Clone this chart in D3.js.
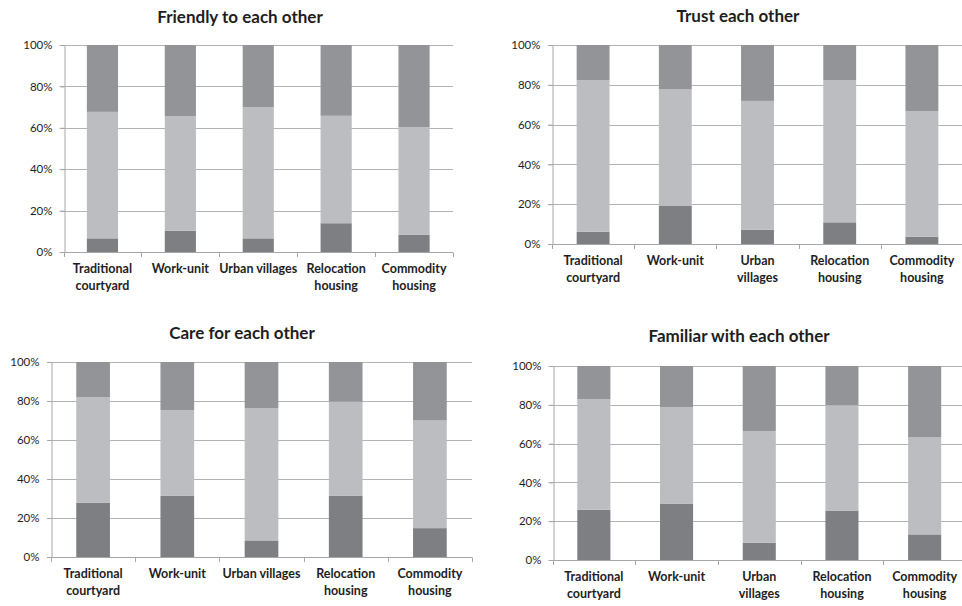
<!DOCTYPE html>
<html>
<head>
<meta charset="utf-8">
<script src="https://cdn.jsdelivr.net/npm/d3@7"></script>
<style>
  html, body { margin: 0; padding: 0; background: #fff; }
  svg { display: block; }
  text { font-family: Lato, "Open Sans", sans-serif; fill: #1e1e1e; }
</style>
</head>
<body>
<svg id="chart" width="962" height="606"></svg>
<script>
// ---------- data ----------
const categories = ["Traditional courtyard", "Work-unit", "Urban villages", "Relocation housing", "Commodity housing"];
const labelLinesA = [["Traditional", "courtyard"], ["Work-unit"], ["Urban villages"], ["Relocation", "housing"], ["Commodity", "housing"]];
const labelLinesB = [["Traditional", "courtyard"], ["Work-unit"], ["Urban", "villages"], ["Relocation", "housing"], ["Commodity", "housing"]];
const seriesKeys = ["low", "mid", "high"];
const yTicks = [0, 20, 40, 60, 80, 100];

const friendlyLow  = [6.6, 10.2, 6.6, 13.9, 8.4];
const friendlyMid  = [61.1, 55.4, 63.4, 51.9, 51.9];
const friendlyHigh = [32.3, 34.4, 30.0, 34.2, 39.7];

const trustLow  = [6.2, 19.1, 7.2, 10.9, 3.7];
const trustMid  = [76.2, 58.6, 64.7, 71.3, 63.1];
const trustHigh = [17.6, 22.3, 28.1, 17.8, 33.2];

const careLow  = [27.9, 31.5, 8.5, 31.5, 14.8];
const careMid  = [54.0, 43.8, 67.8, 48.2, 55.2];
const careHigh = [18.1, 24.7, 23.7, 20.3, 30.0];

const familiarLow  = [25.9, 29.1, 8.9, 25.5, 13.2];
const familiarMid  = [57.0, 49.7, 57.5, 54.3, 50.2];
const familiarHigh = [17.1, 21.2, 33.6, 20.2, 36.6];

// ---------- panels ----------
const colors = { low: "#7e7f83", mid: "#bcbdc1", high: "#939498" };

const panels = [
  { title: "Friendly to each other", low: friendlyLow, mid: friendlyMid, high: friendlyHigh, labels: labelLinesA,
    x0: 63.5, x1: 453, y0: 45, y1: 252, titleX: 240, titleY: 23 },
  { title: "Trust each other", low: trustLow, mid: trustMid, high: trustHigh, labels: labelLinesB,
    x0: 552, x1: 963, y0: 45, y1: 244, titleX: 738, titleY: 22 },
  { title: "Care for each other", low: careLow, mid: careMid, high: careHigh, labels: labelLinesA,
    x0: 51, x1: 472, y0: 362, y1: 557, titleX: 242, titleY: 339 },
  { title: "Familiar with each other", low: familiarLow, mid: familiarMid, high: familiarHigh, labels: labelLinesB,
    x0: 552.5, x1: 966, y0: 366, y1: 560, titleX: 739, titleY: 342 }
];

const svg = d3.select("#chart");

panels.forEach(p => {
  const g = svg.append("g");
  const rows = categories.map((c, i) => ({ cat: c, low: p.low[i], mid: p.mid[i], high: p.high[i] }));
  const stacked = d3.stack().keys(seriesKeys)(rows);

  const x = d3.scaleBand().domain(categories).range([p.x0, p.x1]).paddingInner(0.6).paddingOuter(0.3);
  const y = d3.scaleLinear().domain([0, 100]).range([p.y1, p.y0]);

  // title
  g.append("text")
    .attr("x", p.titleX).attr("y", p.titleY)
    .attr("text-anchor", "middle")
    .style("font-size", "17px").style("font-weight", "bold")
    .text(p.title);

  // gridlines
  g.selectAll("line.grid").data(yTicks.filter(t => t > 0)).enter().append("line")
    .attr("x1", p.x0 - 4).attr("x2", p.x1)
    .attr("y1", d => Math.round(y(d)) + 0.5).attr("y2", d => Math.round(y(d)) + 0.5)
    .attr("stroke", "#b3b3b3").attr("stroke-width", 1);

  // bars
  g.selectAll("g.series").data(stacked).enter().append("g")
    .attr("fill", d => colors[d.key])
    .selectAll("rect").data(d => d).enter().append("rect")
    .attr("x", d => x(d.data.cat))
    .attr("width", x.bandwidth())
    .attr("y", d => y(d[1]))
    .attr("height", d => y(d[0]) - y(d[1]));

  // y axis
  const yAxis = d3.axisLeft(y).tickValues(yTicks).tickFormat(d => d + "%").tickSize(4).tickPadding(8);
  const ya = g.append("g").attr("transform", `translate(${Math.round(p.x0) + 0.5},0)`).call(yAxis);
  ya.select(".domain").attr("stroke", "#a6a6a6");
  ya.selectAll(".tick line").attr("stroke", "#a6a6a6");
  ya.selectAll(".tick text").style("font-size", "11.5px").style("font-family", "Lato, sans-serif").attr("fill", "#2a2a2a");

  // x axis line
  g.append("line")
    .attr("x1", p.x0 - 4).attr("x2", p.x1)
    .attr("y1", Math.round(p.y1) + 0.5).attr("y2", Math.round(p.y1) + 0.5)
    .attr("stroke", "#a6a6a6");
  // x boundary ticks
  const bounds = d3.range(categories.length + 1).map(i => p.x0 + i * x.step());
  g.selectAll("line.xt").data(bounds).enter().append("line")
    .attr("x1", d => Math.round(d) + 0.5).attr("x2", d => Math.round(d) + 0.5)
    .attr("y1", Math.round(p.y1) + 0.5).attr("y2", Math.round(p.y1) + 5)
    .attr("stroke", "#a6a6a6");

  // category labels
  categories.forEach((c, i) => {
    const t = g.append("text")
      .attr("x", x(c) + x.bandwidth() / 2)
      .attr("y", p.y1 + 21)
      .attr("text-anchor", "middle")
      .style("font-size", "12.5px").style("font-weight", "bold");
    p.labels[i].forEach((line, j) => {
      t.append("tspan").attr("x", x(c) + x.bandwidth() / 2).attr("dy", j === 0 ? 0 : 16.5).text(line);
    });
  });
});
</script>
</body>
</html>
